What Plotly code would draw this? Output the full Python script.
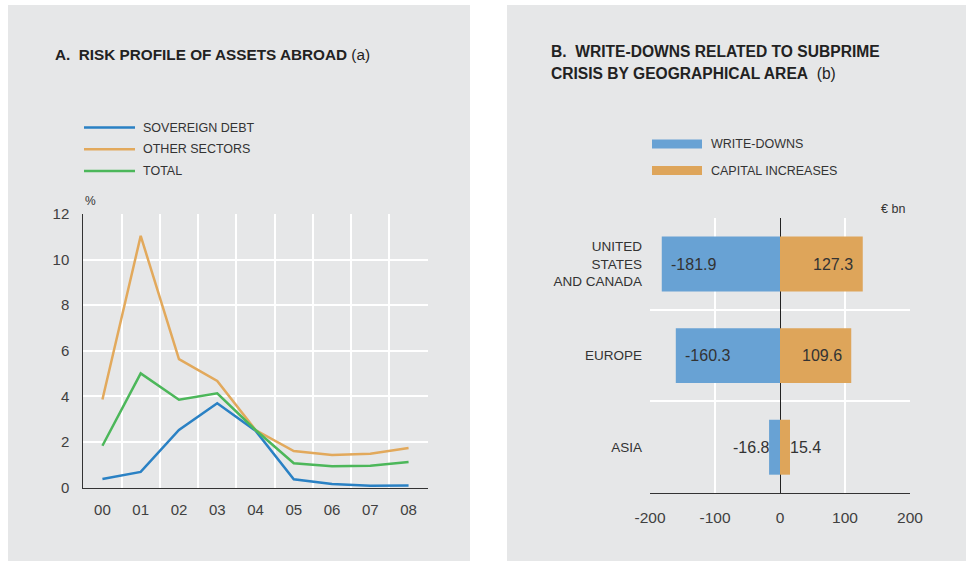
import plotly.graph_objects as go

# ---------------- data ----------------
years = ["00", "01", "02", "03", "04", "05", "06", "07", "08"]
sovereign_debt = [0.38, 0.69, 2.53, 3.70, 2.50, 0.37, 0.16, 0.09, 0.10]
other_sectors = [3.87, 11.04, 5.64, 4.68, 2.53, 1.61, 1.43, 1.49, 1.74]
total = [1.84, 5.01, 3.86, 4.14, 2.53, 1.07, 0.94, 0.96, 1.13]
line_names = ["SOVEREIGN DEBT", "OTHER SECTORS", "TOTAL"]

regions = ["UNITED<br>STATES<br>AND CANADA", "EUROPE", "ASIA"]
write_downs = [-181.9, -160.3, -16.8]
capital_increases = [127.3, 109.6, 15.4]
bar_names = ["WRITE-DOWNS", "CAPITAL INCREASES"]
eur_ticks = [-200, -100, 0, 100, 200]
eur_ticktext = ["-200", "-100", "0", "100", "200"]

# ---------------- style ----------------
W, H = 966, 561
PANEL = "#e6e7e8"
TXT = "#333333"
FONT = "Liberation Sans, Arial, sans-serif"
line_colors = ["#2a81c4", "#e2a95c", "#4cb75a"]
bar_colors = ["#68a2d4", "#dea55a"]


def px(x):
    return x / W


def py(y):
    return 1 - y / H


fig = go.Figure()

# ---- left: lines ----
series = [sovereign_debt, other_sectors, total]
for name, vals, col in zip(line_names, series, line_colors):
    fig.add_trace(go.Scatter(
        x=list(range(len(years))), y=vals, mode="lines", name=name,
        line=dict(color=col, width=2.5), xaxis="x", yaxis="y",
        showlegend=False, hoverinfo="x+y+name"))

# ---- right: bars ----
ypos = list(range(len(regions)))
for name, vals, col in zip(bar_names, [write_downs, capital_increases], bar_colors):
    fig.add_trace(go.Bar(
        y=ypos, x=vals, orientation="h", name=name, marker=dict(color=col, line=dict(width=0)),
        width=0.6, xaxis="x2", yaxis="y2", showlegend=False))

annotations = []
# bar value labels
for i, v in enumerate(write_downs):
    big = abs(v) >= 50
    annotations.append(dict(x=v, y=i, xref="x2", yref="y2", text=f"{v:.1f}", showarrow=False,
                            xanchor="left" if big else "right", xshift=7.5 if big else 3,
                            font=dict(size=16, color=TXT, family=FONT)))
for i, v in enumerate(capital_increases):
    big = abs(v) >= 50
    annotations.append(dict(x=v, y=i, xref="x2", yref="y2", text=f"{v:.1f}", showarrow=False,
                            xanchor="right" if big else "left", xshift=-7.5 if big else -2,
                            font=dict(size=16, color=TXT, family=FONT)))

# titles
annotations.append(dict(x=px(53), y=py(55), xref="paper", yref="paper", xanchor="left", yanchor="middle",
                        text="<b>A.\u00a0 RISK PROFILE OF ASSETS ABROAD</b> (a)", showarrow=False,
                        font=dict(size=15.3, color="#222222", family=FONT)))
annotations.append(dict(x=px(549), y=py(52), xref="paper", yref="paper", xanchor="left", yanchor="middle",
                        text="<b>B.\u00a0 WRITE-DOWNS RELATED TO SUBPRIME</b>", showarrow=False,
                        font=dict(size=15.6, color="#222222", family=FONT)))
annotations.append(dict(x=px(549), y=py(73.5), xref="paper", yref="paper", xanchor="left", yanchor="middle",
                        text="<b>CRISIS BY GEOGRAPHICAL AREA</b>\u00a0 (b)", showarrow=False,
                        font=dict(size=15.6, color="#222222", family=FONT)))
# unit labels
annotations.append(dict(x=px(83), y=py(201), xref="paper", yref="paper", xanchor="left", yanchor="middle",
                        text="%", showarrow=False, font=dict(size=12, color=TXT, family=FONT)))
annotations.append(dict(x=px(907), y=py(209), xref="paper", yref="paper", xanchor="right", yanchor="middle",
                        text="€ bn", showarrow=False, font=dict(size=12.5, color=TXT, family=FONT)))

shapes = [
    dict(type="rect", xref="paper", yref="paper", x0=px(8), x1=px(470), y0=py(5), y1=0,
         fillcolor=PANEL, line=dict(width=0), layer="below"),
    dict(type="rect", xref="paper", yref="paper", x0=px(507), x1=1, y0=py(5), y1=0,
         fillcolor=PANEL, line=dict(width=0), layer="below"),
]

# manual legends
for k, (name, col) in enumerate(zip(line_names, line_colors)):
    yy = 127.5 + k * 21.7
    shapes.append(dict(type="line", xref="paper", yref="paper", x0=px(84), x1=px(135), y0=py(yy), y1=py(yy),
                       line=dict(color=col, width=2.5)))
    annotations.append(dict(x=px(141), y=py(yy), xref="paper", yref="paper", xanchor="left", yanchor="middle",
                            text=name, showarrow=False, font=dict(size=12.5, color=TXT, family=FONT)))
for k, (name, col) in enumerate(zip(bar_names, bar_colors)):
    yy = 144 + k * 26.5
    shapes.append(dict(type="rect", xref="paper", yref="paper", x0=px(652), x1=px(702),
                       y0=py(yy - 4.5), y1=py(yy + 4.5), fillcolor=col, line=dict(width=0)))
    annotations.append(dict(x=px(709), y=py(yy), xref="paper", yref="paper", xanchor="left", yanchor="middle",
                            text=name, showarrow=False, font=dict(size=12.5, color=TXT, family=FONT)))

tickfont = dict(size=15, color="#404040", family=FONT)

fig.update_layout(
    width=W, height=H, autosize=False,
    margin=dict(l=0, r=0, t=0, b=0, pad=0, autoexpand=False),
    paper_bgcolor="white", plot_bgcolor=PANEL,
    showlegend=False, barmode="relative", bargap=0.4,
    shapes=shapes, annotations=annotations,
    xaxis=dict(domain=[px(83.3), px(427.7)], range=[-0.5, 8.5], tickvals=list(range(len(years))),
               ticktext=years, showgrid=False, zeroline=False, showline=True, linecolor="#333333",
               linewidth=1, ticks="", tickfont=tickfont, ticklabelstandoff=8, automargin=False,
               minor=dict(tick0=0.5, dtick=1, showgrid=True, gridcolor="white", gridwidth=2, ticks=""),
               anchor="y", fixedrange=True),
    yaxis=dict(domain=[py(487.7), py(214)], range=[0, 12], dtick=2, showgrid=True, gridcolor="white",
               gridwidth=2, zeroline=False, showline=True, linecolor="#333333", linewidth=1, ticks="",
               tickfont=tickfont, ticklabelstandoff=10, anchor="x", fixedrange=True, automargin=False),
    xaxis2=dict(domain=[px(650), px(910)], range=[-200, 200], tickvals=eur_ticks, ticktext=eur_ticktext,
                showgrid=True, gridcolor="white",
                gridwidth=2, zeroline=True, zerolinecolor="#222222", zerolinewidth=1, showline=True,
                linecolor="#333333", linewidth=1, ticks="", tickfont=dict(size=15.5, color="#404040", family=FONT),
                ticklabelstandoff=10, anchor="y2", fixedrange=True, automargin=False),
    yaxis2=dict(domain=[py(493), py(218.3)], range=[2.5, -0.5], tickvals=ypos, ticktext=regions,
                showgrid=False, zeroline=False, showline=False, ticks="",
                tickfont=dict(size=13.5, color=TXT, family=FONT), ticklabelstandoff=7, automargin=False,
                minor=dict(tick0=0.5, dtick=1, showgrid=True, gridcolor="white", gridwidth=2, ticks=""),
                anchor="x2", fixedrange=True),
)

fig.write_html("out.html", include_plotlyjs=True,
               config={"displayModeBar": False, "responsive": False},
               post_script="document.body.style.margin='0';document.body.style.overflow='hidden';")
